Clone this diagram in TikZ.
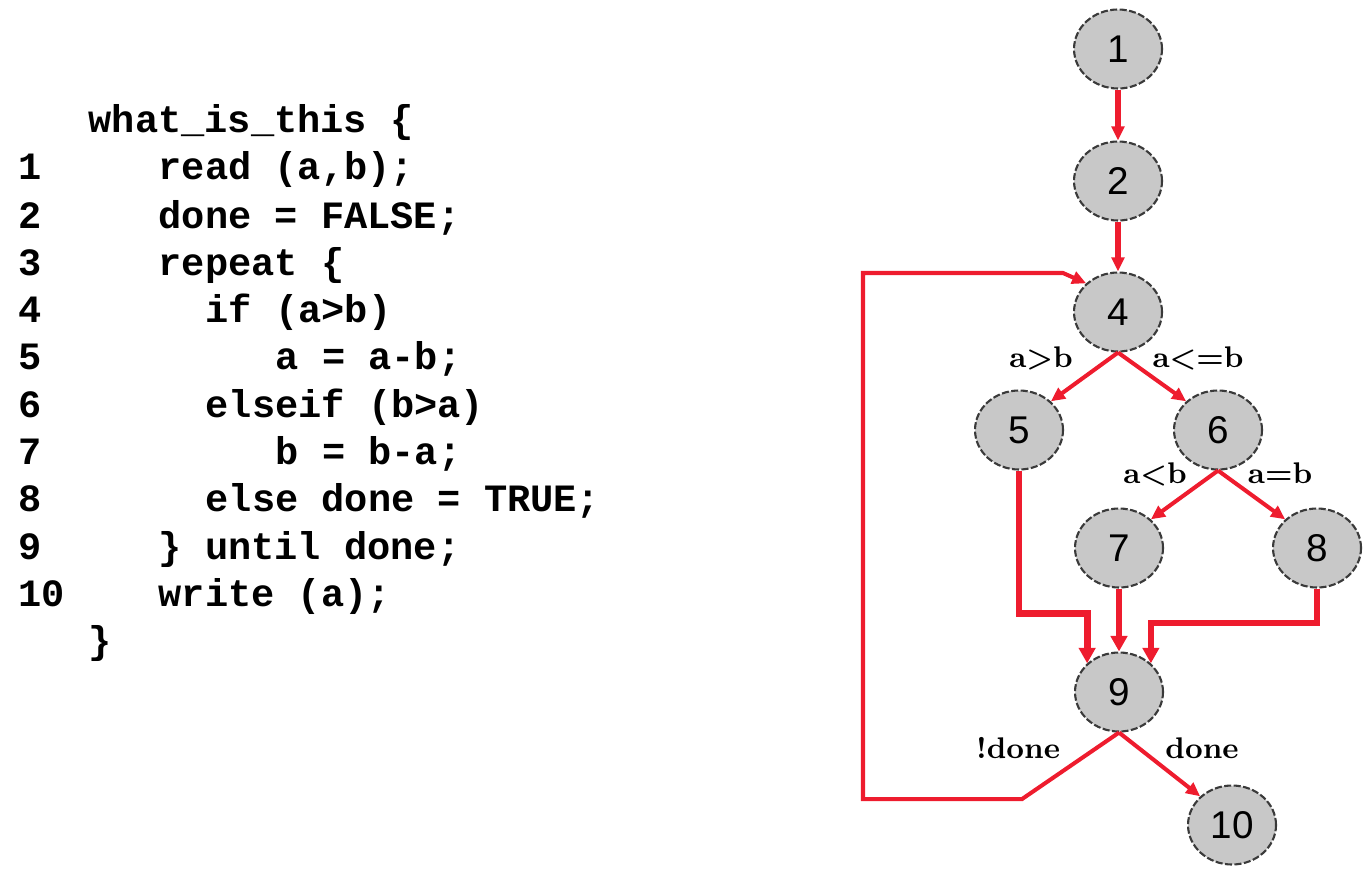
\documentclass[tikz,border=0pt]{standalone}
\usepackage{fontspec}
\setmonofont{Liberation Mono}
\newfontfamily\numfont{Liberation Sans}
\usetikzlibrary{arrows.meta, positioning, calc, shapes.geometric}
\definecolor{flowred}{HTML}{EE1C2E}
\definecolor{nodegray}{HTML}{C8C8C8}
\definecolor{rimgray}{HTML}{3A3A3A}
\tikzset{
    cfgnode/.style={
        ellipse, draw=rimgray, fill=nodegray,
        dash pattern=on 2pt off 0.7pt, line width=0.6pt,
        minimum width=0.88cm, minimum height=0.79cm, inner sep=0pt,
        font=\numfont\fontsize{11}{13}\selectfont,
    },
    arr/.style={
        -{Triangle[length=4pt, width=3.6pt]}, line width=1.15pt, flowred,
    },
    arrmid/.style={
        arr, line width=1.5pt,
    },
    arrthick/.style={
        -{Triangle[length=4.4pt, width=4.6pt]}, line width=1.9pt, flowred,
    },
    cond/.style={
        anchor=base, inner sep=0pt,
        font=\bfseries\fontsize{8.5}{10}\selectfont,
    },
    codeline/.style={
        anchor=base west, inner sep=0pt,
        font=\ttfamily\bfseries\fontsize{11}{13}\selectfont,
    },
}

\begin{document}
\begin{tikzpicture}

\useasboundingbox (0,0) rectangle (13.72,-8.69);

% ═══ SOURCE CODE (left) ═══
\node[codeline] (c0) at (0.88,-1.33) {what\_is\_this \{};
\node[codeline] (l1) at (0.18,-1.80) {1};
\node[codeline] (c1) at (1.58,-1.80) {read (a,b);};
\node[codeline] (l2) at (0.18,-2.28) {2};
\node[codeline] (c2) at (1.58,-2.28) {done = FALSE;};
\node[codeline] (l3) at (0.18,-2.75) {3};
\node[codeline] (c3) at (1.58,-2.75) {repeat \{};
\node[codeline] (l4) at (0.18,-3.22) {4};
\node[codeline] (c4) at (2.05,-3.22) {if (a>b)};
\node[codeline] (l5) at (0.18,-3.69) {5};
\node[codeline] (c5) at (2.75,-3.69) {a = a-b;};
\node[codeline] (l6) at (0.18,-4.17) {6};
\node[codeline] (c6) at (2.05,-4.17) {elseif (b>a)};
\node[codeline] (l7) at (0.18,-4.64) {7};
\node[codeline] (c7) at (2.75,-4.64) {b = b-a;};
\node[codeline] (l8) at (0.18,-5.11) {8};
\node[codeline] (c8) at (2.05,-5.11) {else done = TRUE;};
\node[codeline] (l9) at (0.18,-5.59) {9};
\node[codeline] (c9) at (1.58,-5.59) {\} until done;};
\node[codeline] (l10) at (0.18,-6.06) {10};
\node[codeline] (c10) at (1.58,-6.06) {write (a);};
\node[codeline] (c11) at (0.88,-6.53) {\}};

% ═══ FLOW GRAPH (right) ═══
\node[cfgnode] (n1) at (11.18,-0.49) {1};
\node[cfgnode] (n2) at (11.18,-1.81) {2};
\node[cfgnode] (n4) at (11.18,-3.12) {4};
\node[cfgnode] (n5) at (10.19,-4.30) {5};
\node[cfgnode] (n6) at (12.18,-4.30) {6};
\node[cfgnode] (n7) at (11.19,-5.48) {7};
\node[cfgnode] (n8) at (13.17,-5.48) {8};
\node[cfgnode] (n9) at (11.19,-6.92) {9};
\node[cfgnode] (n10) at (12.32,-8.25) {10};

% Arrows
\draw[arrmid] (n1) -- (n2);
\draw[arrmid] (n2) -- (n4);
\draw[arr] (n4.south) -- (n5.north east);
\draw[arr] (n4.south) -- (n6.north west);
\draw[arr] (n6.south) -- (n7.north east);
\draw[arr] (n6.south) -- (n8.north west);
\draw[arrthick] (n5.south) -- ++(0,-1.43) -| (n9.north west);
\draw[arrthick] (n7) -- (n9);
\draw[arrthick] (n8.south) -- ++(0,-0.345) -| (n9.north east);
\draw[arr] (n9.south) -- (n10.north west);

% Loop back to 4
\draw[arr] (n9.south) -- ++(-0.97,-0.665) -| (8.63,-2.73)
    -- (10.63,-2.73) -- (n4.north west);

% Branch labels
\node[cond] (t45) at (10.41,-3.67) {a>b};
\node[cond] (t46) at (11.98,-3.67) {a<=b};
\node[cond] (t67) at (11.55,-4.83) {a<b};
\node[cond] (t68) at (12.80,-4.83) {a=b};
\node[cond] (t94) at (10.18,-7.58) {!done};
\node[cond] (t910) at (12.02,-7.58) {done};

\end{tikzpicture}
\end{document}
